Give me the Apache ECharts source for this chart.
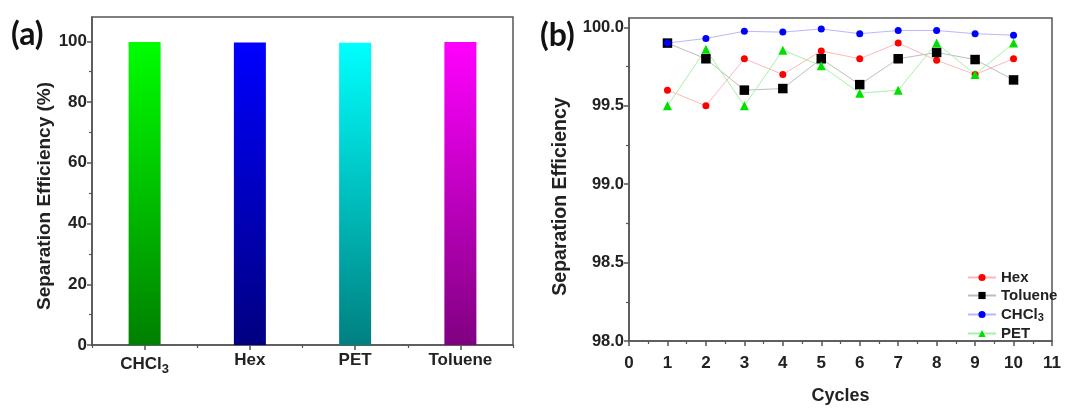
<!DOCTYPE html>
<html><head><meta charset="utf-8">
<script src="https://cdn.jsdelivr.net/npm/echarts@6/dist/echarts.min.js"></script>
<style>html,body{margin:0;padding:0;background:#fff}#c{width:1076px;height:410px}</style>
</head><body><div id="c"></div>
<script>
// Panel (a)
const solvents = ['CHCl3', 'Hex', 'PET', 'Toluene'];
const barValues = [99.8, 99.6, 99.5, 99.8];
const barTop = ['#00ff00', '#0000ff', '#00ffff', '#ff00ff'];
const barBottom = ['#008000', '#000080', '#008080', '#800080'];
const aTicks = [0, 20, 40, 60, 80, 100];
const aMinorTicks = [10, 30, 50, 70, 90];
// Panel (b)
const cycles = [1, 2, 3, 4, 5, 6, 7, 8, 9, 10];
const hexVals = [99.60, 99.50, 99.80, 99.70, 99.85, 99.80, 99.90, 99.79, 99.70, 99.80];
const tolueneVals = [99.90, 99.80, 99.60, 99.61, 99.80, 99.635, 99.80, 99.84, 99.795, 99.665];
const chcl3Vals = [99.90, 99.93, 99.975, 99.97, 99.99, 99.96, 99.98, 99.98, 99.96, 99.95];
const petVals = [99.50, 99.86, 99.50, 99.855, 99.755, 99.58, 99.60, 99.90, 99.70, 99.90];
const bTicks = [98.0, 98.5, 99.0, 99.5, 100.0];
const bMinorTicks = [98.25, 98.75, 99.25, 99.75];

const F = 'Liberation Sans, Arial, sans-serif';
const axisCol = '#555';
const txt = '#222';
const lab = (fs) => ({fontFamily: F, fontWeight: 'bold', fontSize: fs, color: txt});
const sub = (s) => s === 'CHCl3' ? '{n|CHCl}{s|3}' : '{n|' + s + '}';
const richLab = {n: {fontFamily: F, fontWeight: 'bold', fontSize: 17, color: txt},
                 s: {fontFamily: F, fontWeight: 'bold', fontSize: 13, color: txt, padding: [11, 0, 0, 0]}};
const tickLine = {color: axisCol, width: 1.5};

const chart = echarts.init(document.getElementById('c'));
const pair = (xs, ys) => xs.map((x, i) => [x, ys[i]]);
const lineSeries = (name, vals, symbol, size, col, lineCol) => ({
  name, type: 'line', xAxisIndex: 1, yAxisIndex: 1, data: pair(cycles, vals),
  symbol, symbolSize: size, showSymbol: true,
  itemStyle: {color: col, borderWidth: 0},
  lineStyle: {color: lineCol, width: 1}
});
const nameStyle = (fs) => ({fontFamily: F, fontWeight: 'bold', fontSize: fs, color: txt});

chart.setOption({
  animation: false,
  backgroundColor: '#fff',
  title: [
    {text: '(a)', left: 6, top: 14, textStyle: {fontFamily: 'Lato', fontWeight: 'bold', fontSize: 32, color: '#111'}},
    {text: '(b)', left: 535, top: 15, textStyle: {fontFamily: 'Lato', fontWeight: 'bold', fontSize: 32, color: '#111'}}
  ],
  grid: [
    {left: 92, top: 17, width: 421, height: 328, show: true, borderColor: axisCol, borderWidth: 1.5, backgroundColor: 'transparent'},
    {left: 629, top: 18, width: 423, height: 328, show: true, borderColor: axisCol, borderWidth: 1.5, backgroundColor: 'transparent'}
  ],
  xAxis: [
    {type: 'category', gridIndex: 0, data: solvents,
     axisLine: {lineStyle: {color: axisCol, width: 1.5}},
     axisTick: {show: true, alignWithLabel: true, length: 5, lineStyle: tickLine},
     axisLabel: {formatter: sub, rich: richLab, margin: 7},
     splitLine: {show: false}},
    {type: 'value', gridIndex: 1, min: 0, max: 11, interval: 1,
     name: 'Cycles', nameLocation: 'middle', nameGap: 46,
     nameTextStyle: nameStyle(18),
     axisLine: {lineStyle: {color: axisCol, width: 1.5}},
     axisTick: {show: true, length: 5, lineStyle: tickLine},
     minorTick: {show: true, splitNumber: 2, length: 3, lineStyle: {color: axisCol, width: 1.2}},
     axisLabel: Object.assign({margin: 14, verticalAlign: 'top'}, lab(17)),
     splitLine: {show: false}},
    // boundary minor ticks for the category axis of panel (a)
    {type: 'category', gridIndex: 0, data: solvents, position: 'bottom',
     axisLine: {show: false},
     axisTick: {show: true, alignWithLabel: false, length: 3, lineStyle: {color: axisCol, width: 1.2}},
     axisLabel: {show: false}, splitLine: {show: false}}
  ],
  yAxis: [
    {type: 'value', gridIndex: 0, min: 0, max: 108, interval: 20,
     name: 'Separation Efficiency (%)', nameLocation: 'middle', nameGap: 36,
     nameTextStyle: Object.assign({padding: [0, 30, 0, 0]}, nameStyle(19)),
     axisLine: {show: true, lineStyle: {color: axisCol, width: 1.5}},
     axisTick: {show: true, length: 5, lineStyle: tickLine, customValues: aTicks},
     axisLabel: Object.assign({customValues: aTicks, margin: 5}, lab(17)),
     splitLine: {show: false}},
    {type: 'value', gridIndex: 1, min: 98, max: 100.06, interval: 0.5,
     name: 'Separation Efficiency', nameLocation: 'middle', nameGap: 58,
     nameTextStyle: Object.assign({padding: [0, 34, 0, 0]}, nameStyle(19.5)),
     axisLine: {show: true, lineStyle: {color: axisCol, width: 1.5}},
     axisTick: {show: true, length: 5, lineStyle: tickLine, customValues: bTicks},
     axisLabel: Object.assign({customValues: bTicks, margin: 5, formatter: (v) => v.toFixed(1)}, lab(16.5)),
     splitLine: {show: false}},
    {type: 'value', gridIndex: 0, min: 0, max: 108, position: 'left',
     axisLine: {show: false},
     axisTick: {show: true, length: 3, lineStyle: {color: axisCol, width: 1.2}, customValues: aMinorTicks},
     axisLabel: {show: false}, splitLine: {show: false}},
    {type: 'value', gridIndex: 1, min: 98, max: 100.06, position: 'left',
     axisLine: {show: false},
     axisTick: {show: true, length: 3, lineStyle: {color: axisCol, width: 1.2}, customValues: bMinorTicks},
     axisLabel: {show: false}, splitLine: {show: false}}
  ],
  legend: {
    orient: 'vertical', left: 962, top: 265, itemWidth: 28, itemHeight: 9, itemGap: 3,
    data: ['Hex', 'Toluene', 'CHCl3', 'PET'],
    formatter: sub,
    textStyle: {rich: {n: {fontFamily: F, fontWeight: 'bold', fontSize: 15, color: txt, lineHeight: 15},
                       s: {fontFamily: F, fontWeight: 'bold', fontSize: 11, color: txt, padding: [6, 0, 0, 0], lineHeight: 9}}}
  },
  series: [
    {type: 'bar', xAxisIndex: 0, yAxisIndex: 0, barWidth: 32,
     data: barValues.map((v, i) => ({value: v, itemStyle: {color: new echarts.graphic.LinearGradient(0, 0, 0, 1, [
       {offset: 0, color: barTop[i]}, {offset: 1, color: barBottom[i]}])}}))},
    lineSeries('Hex', hexVals, 'circle', 7, '#ff0000', '#ffb8b8'),
    lineSeries('Toluene', tolueneVals, 'rect', 9.5, '#000000', '#bdbdbd'),
    lineSeries('CHCl3', chcl3Vals, 'circle', 7, '#0000ff', '#b8b8ff'),
    lineSeries('PET', petVals, 'triangle', 9, '#00e000', '#a8f0a8')
  ]
});
</script></body></html>
